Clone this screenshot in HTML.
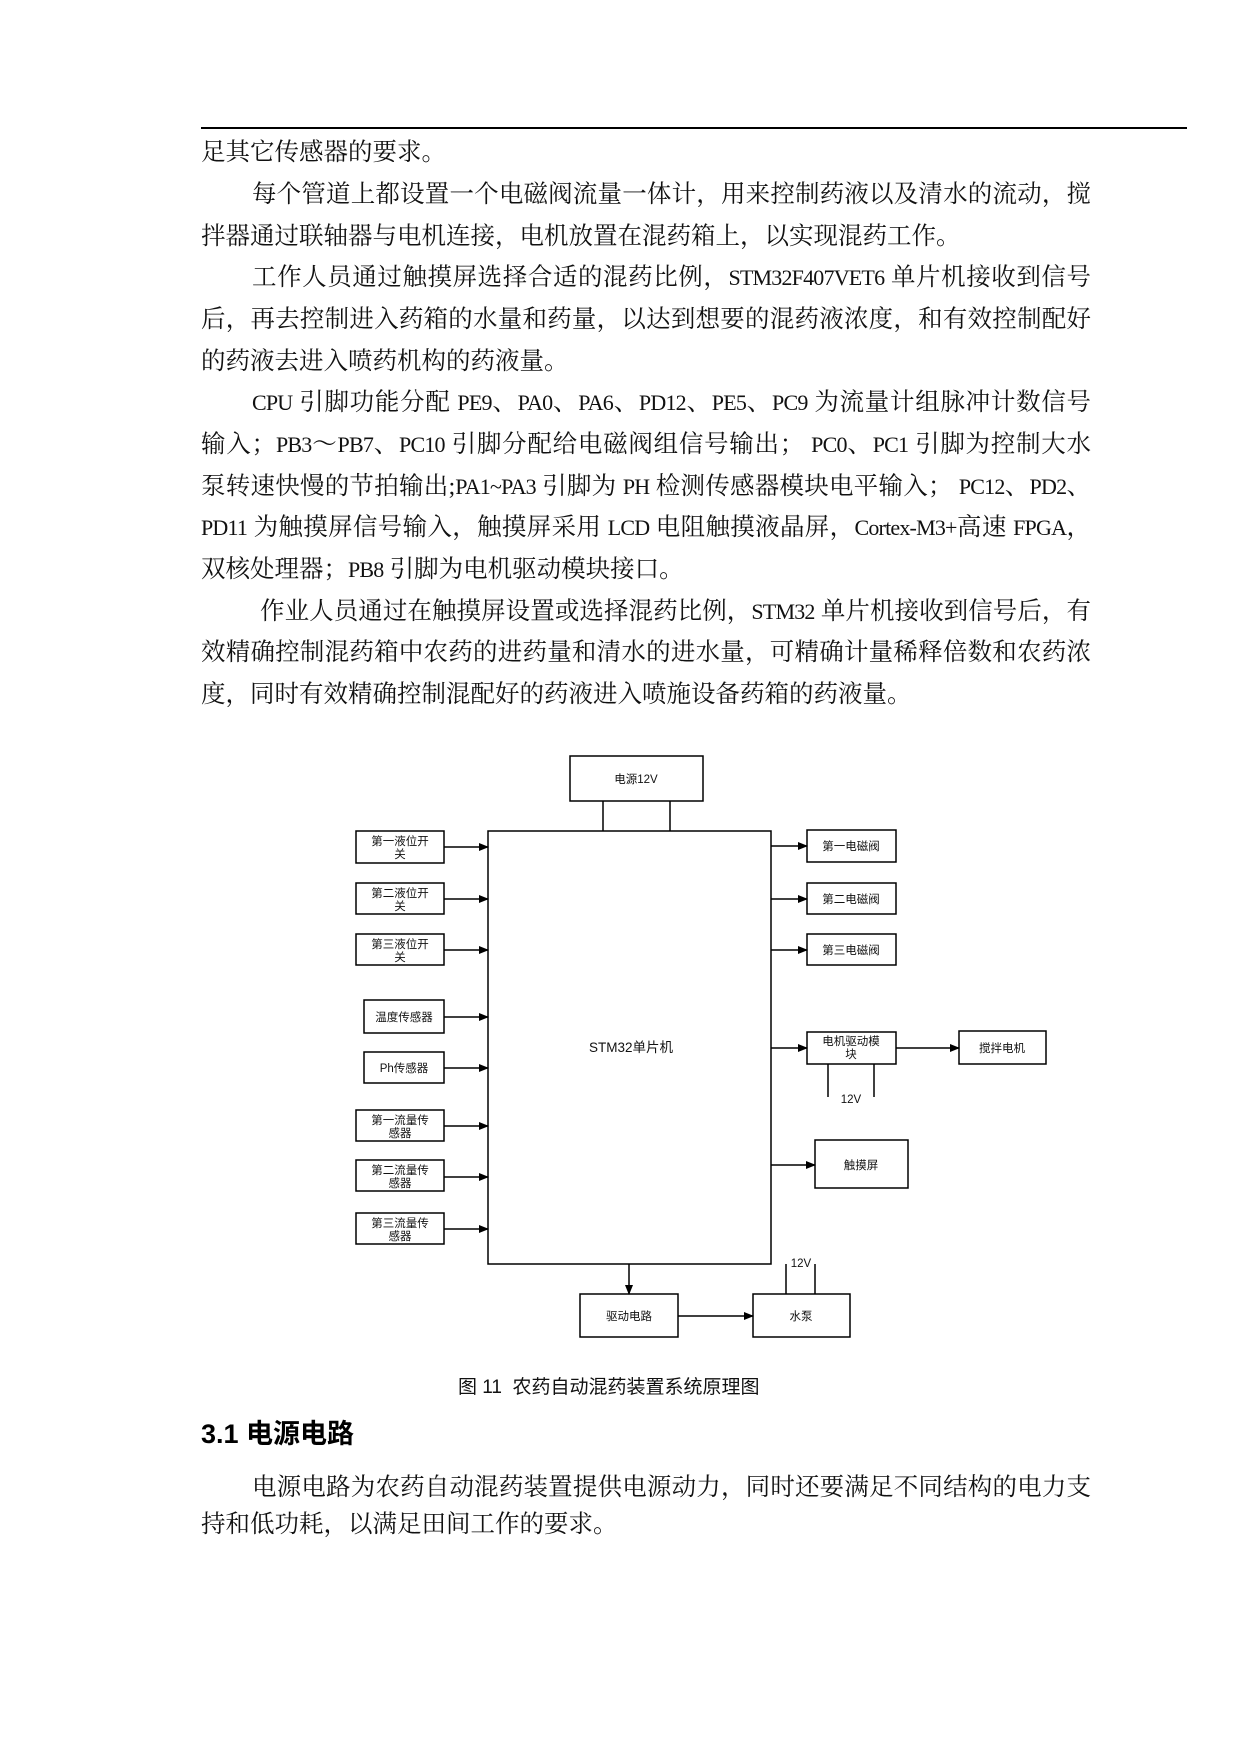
<!DOCTYPE html>
<html><head><meta charset="utf-8"><style>
body{margin:0;background:#fff}
#p{position:relative;width:1240px;height:1754px;background:#fff;overflow:hidden}
.l{position:absolute;left:201px;width:890px;height:42px;line-height:42px;font-size:24.5px;font-family:"Liberation Serif","Noto Serif CJK SC",serif;color:#111;white-space:nowrap}
.j{text-align:justify;text-align-last:justify;white-space:normal;overflow:visible}
.e{font-size:22px;letter-spacing:-0.8px}
svg text{font-family:"Liberation Sans","Noto Sans CJK SC",sans-serif;fill:#111}
</style></head><body><div id="p">
<div style="position:absolute;left:201px;top:127px;width:986px;height:2px;background:#000"></div>
<div class="l" style="top:132px">足其它传感器的要求。</div>
<div class="l j" style="top:174px;left:252px;width:839px">每个管道上都设置一个电磁阀流量一体计，用来控制药液以及清水的流动，搅</div>
<div class="l" style="top:216px">拌器通过联轴器与电机连接，电机放置在混药箱上，以实现混药工作。</div>
<div class="l j" style="top:257px;left:252px;width:839px">工作人员通过触摸屏选择合适的混药比例，<span class="e">STM32F407VET6</span> 单片机接收到信号</div>
<div class="l j" style="top:299px">后，再去控制进入药箱的水量和药量，以达到想要的混药液浓度，和有效控制配好</div>
<div class="l" style="top:341px">的药液去进入喷药机构的药液量。</div>
<div class="l j" style="top:382px;left:252px;width:839px"><span class="e">CPU</span> 引脚功能分配 <span class="e">PE9</span>、<span class="e">PA0</span>、<span class="e">PA6</span>、<span class="e">PD12</span>、<span class="e">PE5</span>、<span class="e">PC9</span> 为流量计组脉冲计数信号</div>
<div class="l j" style="top:424px">输入；<span class="e">PB3</span>～<span class="e">PB7</span>、<span class="e">PC10</span> 引脚分配给电磁阀组信号输出； <span class="e">PC0</span>、<span class="e">PC1</span> 引脚为控制大水</div>
<div class="l j" style="top:466px">泵转速快慢的节拍输出;<span class="e">PA1~PA3</span> 引脚为 <span class="e">PH</span> 检测传感器模块电平输入； <span class="e">PC12</span>、<span class="e">PD2</span>、</div>
<div class="l j" style="top:507px"><span class="e">PD11</span> 为触摸屏信号输入，触摸屏采用 <span class="e">LCD</span> 电阻触摸液晶屏，<span class="e">Cortex-M3+</span>高速 <span class="e">FPGA</span>，</div>
<div class="l" style="top:549px">双核处理器；<span class="e">PB8</span> 引脚为电机驱动模块接口。</div>
<div class="l j" style="top:591px;left:260px;width:831px">作业人员通过在触摸屏设置或选择混药比例，<span class="e">STM32</span> 单片机接收到信号后，有</div>
<div class="l j" style="top:632px">效精确控制混药箱中农药的进药量和清水的进水量，可精确计量稀释倍数和农药浓</div>
<div class="l" style="top:674px">度，同时有效精确控制混配好的药液进入喷施设备药箱的药液量。</div>

<svg style="position:absolute;left:0;top:0" width="1240" height="1754">
<defs><marker id="a" markerWidth="10" markerHeight="8" refX="9" refY="4" orient="auto" markerUnits="userSpaceOnUse"><path d="M0,0 L10,4 L0,8z" fill="#000"/></marker></defs>
<g fill="none" stroke="#000" stroke-width="1.5">
<rect x="570" y="756" width="133" height="45"/>
<line x1="603" y1="801" x2="603" y2="831"/><line x1="670" y1="801" x2="670" y2="831"/>
<rect x="488" y="831" width="283" height="433"/>
<rect x="356" y="831" width="88" height="32"/>
<rect x="356" y="883" width="88" height="31"/>
<rect x="356" y="934" width="88" height="31"/>
<rect x="364" y="1000" width="80" height="33"/>
<rect x="364" y="1052" width="80" height="31"/>
<rect x="356" y="1110" width="88" height="31"/>
<rect x="356" y="1160" width="88" height="31"/>
<rect x="356" y="1213" width="88" height="31"/>
<rect x="807" y="830" width="89" height="32"/>
<rect x="807" y="883" width="89" height="31"/>
<rect x="807" y="934" width="89" height="31"/>
<rect x="807" y="1032" width="89" height="32"/>
<line x1="828" y1="1064" x2="828" y2="1097"/><line x1="874" y1="1064" x2="874" y2="1097"/>
<rect x="959" y="1031" width="87" height="33"/>
<rect x="815" y="1140" width="93" height="48"/>
<rect x="580" y="1294" width="98" height="43"/>
<rect x="753" y="1294" width="97" height="43"/>
<line x1="786" y1="1264" x2="786" y2="1294"/><line x1="815" y1="1264" x2="815" y2="1294"/>
</g>
<g stroke="#000" stroke-width="1.5" marker-end="url(#a)">
<line x1="444" y1="847" x2="488" y2="847"/>
<line x1="444" y1="899" x2="488" y2="899"/>
<line x1="444" y1="950" x2="488" y2="950"/>
<line x1="444" y1="1017" x2="488" y2="1017"/>
<line x1="444" y1="1068" x2="488" y2="1068"/>
<line x1="444" y1="1126" x2="488" y2="1126"/>
<line x1="444" y1="1177" x2="488" y2="1177"/>
<line x1="444" y1="1229" x2="488" y2="1229"/>
<line x1="771" y1="846" x2="807" y2="846"/>
<line x1="771" y1="899" x2="807" y2="899"/>
<line x1="771" y1="950" x2="807" y2="950"/>
<line x1="771" y1="1048" x2="807" y2="1048"/>
<line x1="896" y1="1048" x2="959" y2="1048"/>
<line x1="771" y1="1165" x2="815" y2="1165"/>
<line x1="629" y1="1264" x2="629" y2="1294"/>
<line x1="678" y1="1316" x2="753" y2="1316"/>
</g>
<g font-size="11.5" text-anchor="middle">
<text x="636" y="783">电源12V</text>
<text x="400" y="845">第一液位开</text><text x="400" y="858">关</text>
<text x="400" y="897">第二液位开</text><text x="400" y="910">关</text>
<text x="400" y="948">第三液位开</text><text x="400" y="961">关</text>
<text x="404" y="1021">温度传感器</text>
<text x="404" y="1072">Ph传感器</text>
<text x="400" y="1124">第一流量传</text><text x="400" y="1137">感器</text>
<text x="400" y="1174">第二流量传</text><text x="400" y="1187">感器</text>
<text x="400" y="1227">第三流量传</text><text x="400" y="1240">感器</text>
<text x="851" y="850">第一电磁阀</text>
<text x="851" y="903">第二电磁阀</text>
<text x="851" y="954">第三电磁阀</text>
<text x="851" y="1045">电机驱动模</text><text x="851" y="1058">块</text>
<text x="851" y="1103">12V</text>
<text x="1002" y="1052">搅拌电机</text>
<text x="861" y="1169">触摸屏</text>
<text x="629" y="1320">驱动电路</text>
<text x="801" y="1320">水泵</text>
<text x="801" y="1267">12V</text>
<text x="631" y="1052" font-size="13.5">STM32单片机</text>
</g>
</svg>
<div style="position:absolute;left:458px;top:1374px;font-size:19px;line-height:28px;font-family:'Liberation Sans','Noto Sans CJK SC',sans-serif;color:#111;white-space:nowrap">图 11 &nbsp;农药自动混药装置系统原理图</div>
<div style="position:absolute;left:201px;top:1416px;font-size:27px;line-height:36px;font-weight:bold;font-family:'Liberation Sans','Noto Sans CJK SC',sans-serif;color:#000;white-space:nowrap">3.1 电源电路</div>
<div class="l j" style="top:1467px;left:252px;width:839px">电源电路为农药自动混药装置提供电源动力，同时还要满足不同结构的电力支</div>
<div class="l" style="top:1504px">持和低功耗，以满足田间工作的要求。</div>
</div></body></html>
